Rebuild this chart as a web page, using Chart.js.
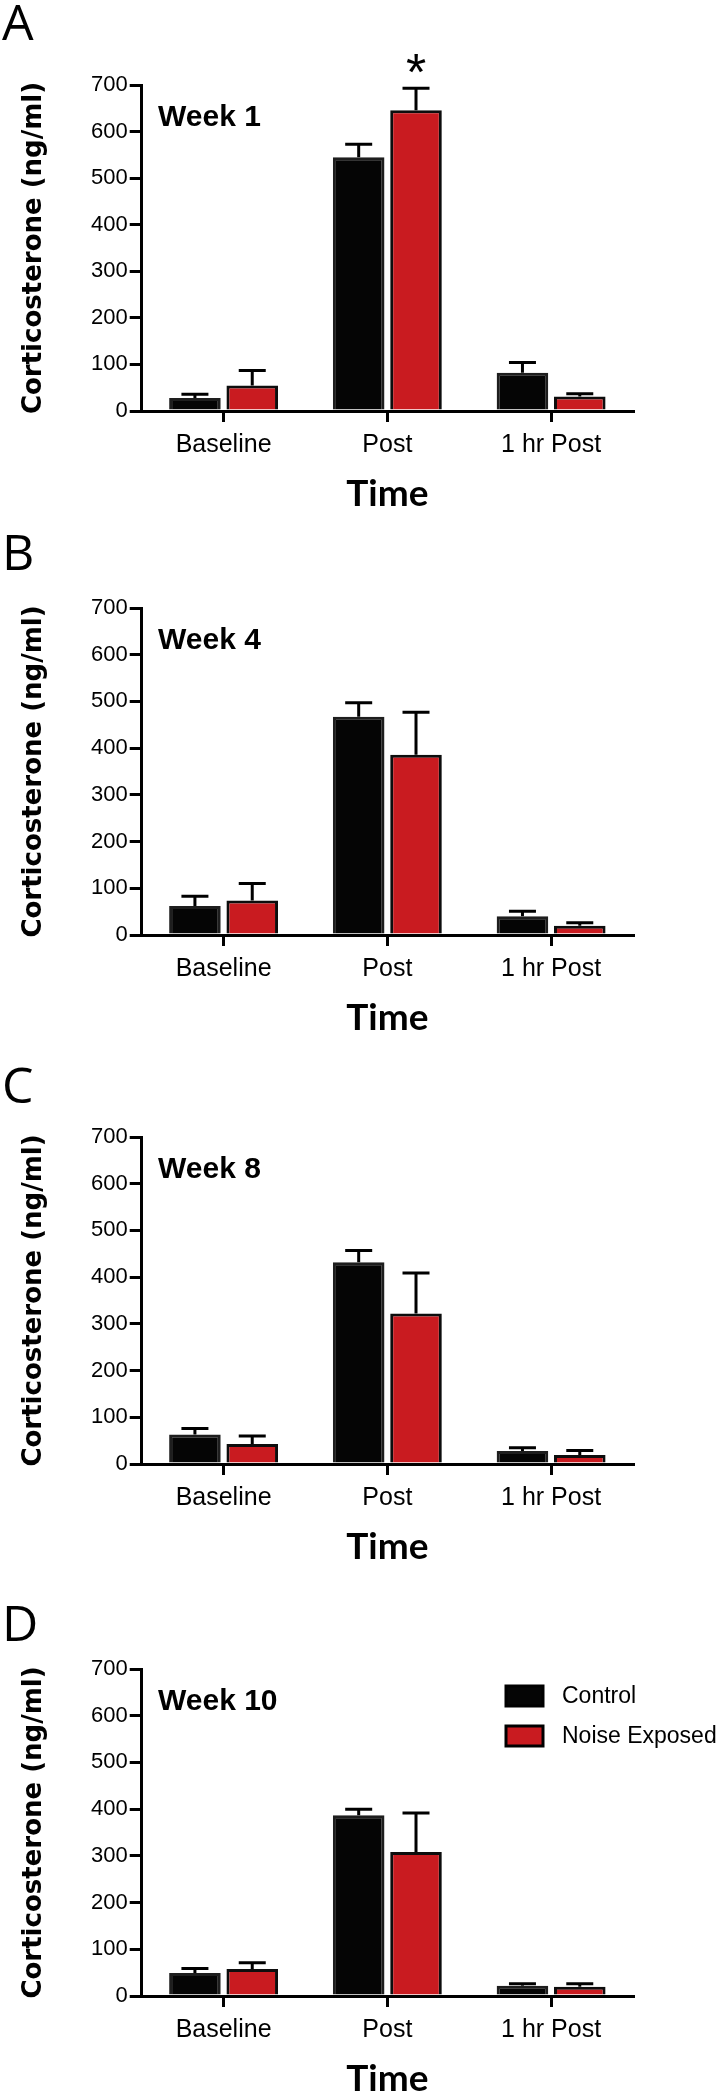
<!DOCTYPE html>
<html>
<head>
<meta charset="utf-8">
<script src="https://cdn.jsdelivr.net/npm/chart.js@4.4.1/dist/chart.umd.min.js"></script>
<style>
  html, body { margin: 0; padding: 0; background: #fff; }
  #wrap { position: relative; width: 722px; height: 2100px; overflow: hidden; }
  #wrap canvas { position: absolute; left: 0; }
</style>
</head>
<body>
<div id="wrap"></div>
<script>
// categories and axis ticks
const categories = ['Baseline', 'Post', '1 hr Post'];
const yTicks = [0, 100, 200, 300, 400, 500, 600, 700];
const seriesNames = ['Control', 'Noise Exposed'];

// corticosterone (ng/ml), mean and error
const week1Control = [28, 545, 82];
const week1ControlErr = [8, 28, 22];
const week1Noise = [55, 646, 31];
const week1NoiseErr = [32, 47, 6];

const week4Control = [62, 467, 40];
const week4ControlErr = [21, 30, 11];
const week4Noise = [74, 386, 20];
const week4NoiseErr = [36, 91, 6];

const week8Control = [63, 432, 28];
const week8ControlErr = [13, 25, 7];
const week8Noise = [43, 322, 19];
const week8NoiseErr = [17, 87, 10];

const week10Control = [49, 387, 22];
const week10ControlErr = [10, 13, 4];
const week10Noise = [58, 308, 20];
const week10NoiseErr = [13, 84, 6];

// significance marks: [dataset, category]
const week1Stars = [[1, 1]];

const CANVAS_H = 525;
const panels = [
  { letter: 'A', week: 'Week 1', control: week1Control, controlErr: week1ControlErr, noise: week1Noise, noiseErr: week1NoiseErr, stars: week1Stars, legend: false, top: 0, areaTop: 85, areaBottom: 411, letterY: 40 },
  { letter: 'B', week: 'Week 4', control: week4Control, controlErr: week4ControlErr, noise: week4Noise, noiseErr: week4NoiseErr, stars: [], legend: false, top: 525, areaTop: 83, areaBottom: 410, letterY: 45 },
  { letter: 'C', week: 'Week 8', control: week8Control, controlErr: week8ControlErr, noise: week8Noise, noiseErr: week8NoiseErr, stars: [], legend: false, top: 1050, areaTop: 87, areaBottom: 414, letterY: 53 },
  { letter: 'D', week: 'Week 10', control: week10Control, controlErr: week10ControlErr, noise: week10Noise, noiseErr: week10NoiseErr, stars: [], legend: true, top: 1575, areaTop: 94, areaBottom: 421, letterY: 66 },
];

const BLACK_FILL = '#050505';
const BLACK_EDGE = '#1e1e1e';
const RED_FILL = '#c91b20';
const AXIS_LEFT = 141.7;
const AXIS_RIGHT = 633;
const TIME_FONT = 37;

const errorBars = {
  id: 'errorBars',
  afterDatasetsDraw(chart) {
    const { ctx } = chart;
    const y = chart.scales.y;
    ctx.save();
    ctx.strokeStyle = '#000';
    ctx.lineWidth = 3;
    chart.data.datasets.forEach((ds, i) => {
      chart.getDatasetMeta(i).data.forEach((bar, j) => {
        const top = y.getPixelForValue(ds.data[j] + ds.errors[j]);
        ctx.beginPath();
        ctx.moveTo(bar.x, bar.y);
        ctx.lineTo(bar.x, top);
        ctx.moveTo(bar.x - 13.5, top);
        ctx.lineTo(bar.x + 13.5, top);
        ctx.stroke();
      });
    });
    ctx.restore();
  },
};

const annotations = {
  id: 'annotations',
  afterDraw(chart, args, opts) {
    const { ctx, chartArea } = chart;
    const y = chart.scales.y;
    ctx.save();
    ctx.fillStyle = '#000';
    ctx.textAlign = 'left';
    ctx.textBaseline = 'alphabetic';

    ctx.font = '50px "Open Sans"';
    ctx.fillText(opts.letter, 2, opts.letterY);

    ctx.font = 'bold 30px "Liberation Sans"';
    ctx.fillText(opts.week, 158, chartArea.top + 41);

    // asterisk above the error cap
    ctx.font = '52px "Liberation Sans"';
    ctx.textAlign = 'center';
    opts.stars.forEach(([d, c]) => {
      const ds = chart.data.datasets[d];
      const bar = chart.getDatasetMeta(d).data[c];
      const capY = y.getPixelForValue(ds.data[c] + ds.errors[c]);
      ctx.fillText('*', bar.x, capY + 2);
    });

    if (opts.legend) {
      ctx.textAlign = 'left';
      ctx.textBaseline = 'middle';
      ctx.font = '23px "Liberation Sans"';
      chart.data.datasets.forEach((ds, i) => {
        const by = chartArea.top + 17 + i * 40;
        ctx.fillStyle = ds.backgroundColor;
        ctx.fillRect(506, by, 37, 20);
        ctx.strokeStyle = '#000';
        ctx.lineWidth = 3;
        ctx.strokeRect(506, by, 37, 20);
        ctx.fillStyle = '#000';
        ctx.fillText(ds.label, 562, by + 11);
      });
    }
    ctx.restore();
  },
};

const wrap = document.getElementById('wrap');

panels.forEach((p) => {
  const canvas = document.createElement('canvas');
  canvas.width = 722;
  canvas.height = CANVAS_H;
  canvas.style.top = p.top + 'px';
  wrap.appendChild(canvas);

  const xHeight = CANVAS_H - p.areaBottom;
  const timePad = Math.max(0, xHeight - 83 - TIME_FONT / 2);

  new Chart(canvas, {
    type: 'bar',
    data: {
      labels: categories,
      datasets: [
        {
          label: seriesNames[0],
          data: p.control,
          errors: p.controlErr,
          backgroundColor: BLACK_FILL,
          borderColor: BLACK_EDGE,
          borderWidth: 3,
        },
        {
          label: seriesNames[1],
          data: p.noise,
          errors: p.noiseErr,
          backgroundColor: RED_FILL,
          borderColor: '#0d0d0d',
          borderWidth: 3,
        },
      ],
    },
    options: {
      responsive: false,
      animation: false,
      devicePixelRatio: 1,
      categoryPercentage: 0.7,
      barPercentage: 0.9,
      layout: { padding: { top: p.areaTop, left: 0, right: 722 - AXIS_RIGHT, bottom: 0 } },
      plugins: {
        legend: { display: false },
        tooltip: { enabled: false },
        annotations: { letter: p.letter, week: p.week, stars: p.stars, letterY: p.letterY, legend: p.legend },
      },
      scales: {
        x: {
          z: 1,
          offset: true,
          grid: { offset: false, drawOnChartArea: false, drawTicks: true, tickLength: 11, color: '#000', lineWidth: 3 },
          border: { display: true, color: '#000', width: 3 },
          ticks: { color: '#000', padding: 8, font: { family: '"Liberation Sans", Arial, sans-serif', size: 25 } },
          title: {
            display: true,
            text: 'Time',
            color: '#000',
            font: { family: 'Lato, "Open Sans", sans-serif', size: TIME_FONT, weight: 'bold', lineHeight: 1 },
            padding: { top: 0, bottom: timePad },
          },
          afterFit: (s) => { s.height = xHeight; },
        },
        y: {
          z: 1,
          min: 0,
          max: 700,
          afterBuildTicks: (s) => { s.ticks = yTicks.map((v) => ({ value: v })); },
          grid: { drawOnChartArea: false, drawTicks: true, tickLength: 12, color: '#000', lineWidth: 3 },
          border: { display: true, color: '#000', width: 3 },
          ticks: { color: '#000', padding: 2, font: { family: '"Liberation Sans", Arial, sans-serif', size: 22 } },
          title: {
            display: true,
            text: 'Corticosterone (ng/ml)',
            color: '#000',
            font: { family: '"DejaVu Sans", Verdana, sans-serif', size: 26, weight: 'bold', lineHeight: 1.2 },
            padding: { top: 19, bottom: 0 },
          },
          afterFit: (s) => { s.width = AXIS_LEFT; },
        },
      },
    },
    plugins: [errorBars, annotations],
  });
});
</script>
</body>
</html>
